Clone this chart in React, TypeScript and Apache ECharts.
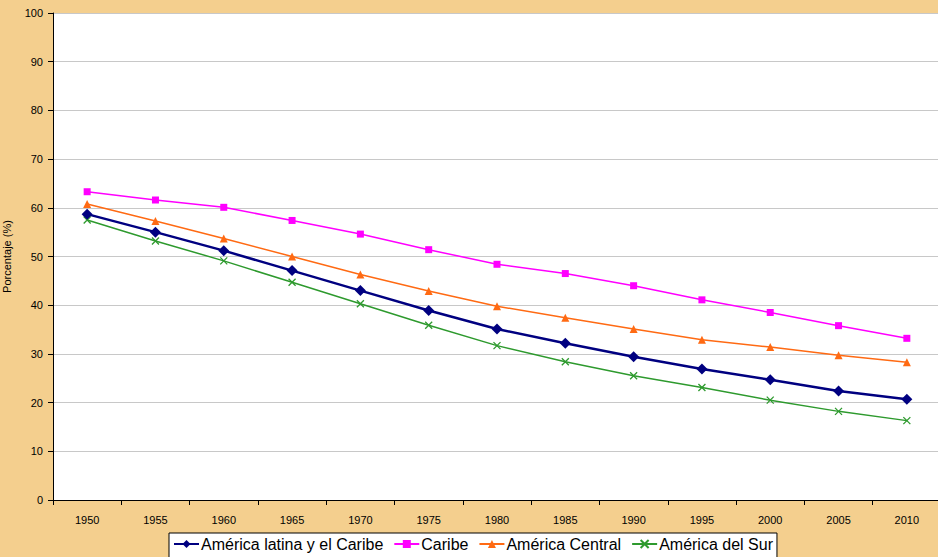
import React, { useEffect, useRef } from "react";
import * as echarts from "echarts";

const years = ["1950", "1955", "1960", "1965", "1970", "1975", "1980", "1985", "1990", "1995", "2000", "2005", "2010"];
const latam = [58.7, 55.0, 51.2, 47.1, 43.0, 38.9, 35.1, 32.2, 29.4, 26.9, 24.7, 22.4, 20.7];
const caribe = [63.3, 61.6, 60.1, 57.4, 54.6, 51.4, 48.4, 46.5, 44.0, 41.1, 38.5, 35.8, 33.2];
const central = [60.8, 57.3, 53.7, 50.0, 46.3, 42.9, 39.8, 37.4, 35.1, 32.9, 31.4, 29.7, 28.3];
const sur = [57.5, 53.2, 49.1, 44.7, 40.3, 35.9, 31.7, 28.4, 25.5, 23.1, 20.5, 18.2, 16.3];
const seriesNames = ["América latina y el Caribe", "Caribe", "América Central", "América del Sur"];

const FONT = "Liberation Sans, Arial, sans-serif";

export default function App() {
  const ref = useRef<HTMLDivElement>(null);
  useEffect(() => {
    document.body.style.margin = "0";
    const chart = echarts.init(ref.current!, undefined, { renderer: "svg" });
    chart.setOption({
      animation: false,
      backgroundColor: "#F4CF8E",
      textStyle: { fontFamily: FONT },
      grid: {
        left: 53,
        top: 13,
        width: 888,
        height: 487,
        backgroundColor: "#ffffff",
        show: true,
        borderWidth: 0,
        containLabel: false,
        outerBoundsMode: "none",
      },
      legend: {
        data: seriesNames,
        left: 169,
        top: 533,
        itemGap: 10,
        itemWidth: 25,
        itemHeight: 10,
        padding: [3, 4, 6, 4],
        backgroundColor: "#ffffff",
        borderColor: "#000000",
        borderWidth: 1,
        borderRadius: 0,
        textStyle: { fontSize: 16, color: "#000", fontFamily: FONT, padding: [0, 0, 0, -3] },
      },
      xAxis: {
        type: "category",
        data: years,
        boundaryGap: true,
        axisLine: { lineStyle: { color: "#000", width: 1 } },
        axisTick: { show: true, length: 5, lineStyle: { color: "#000" } },
        axisLabel: { color: "#000", fontSize: 11, margin: 14, fontFamily: FONT },
        splitLine: { show: false },
      },
      yAxis: {
        type: "value",
        min: 0,
        max: 100,
        interval: 10,
        name: "Porcentaje (%)",
        nameLocation: "middle",
        nameGap: 41,
        nameTextStyle: { fontSize: 11, color: "#000", fontFamily: FONT },
        axisLine: { show: true, lineStyle: { color: "#000", width: 1 } },
        axisTick: { show: true, length: 5, lineStyle: { color: "#000" } },
        axisLabel: { color: "#000", fontSize: 11, margin: 10, fontFamily: FONT },
        splitLine: { show: true, lineStyle: { color: "#c8c8c8", width: 1 } },
      },
      series: [
        {
          name: seriesNames[0],
          type: "line",
          data: latam,
          symbol: "diamond",
          symbolSize: 11,
          lineStyle: { color: "#000080", width: 2.5 },
          itemStyle: { color: "#000080" },
          z: 5,
        },
        {
          name: seriesNames[1],
          type: "line",
          data: caribe,
          symbol: "rect",
          symbolSize: 7,
          lineStyle: { color: "#FF00FF", width: 1.5 },
          itemStyle: { color: "#FF00FF" },
        },
        {
          name: seriesNames[2],
          type: "line",
          data: central,
          symbol: "triangle",
          symbolSize: 8,
          lineStyle: { color: "#FF6A13", width: 1.5 },
          itemStyle: { color: "#FF6A13" },
        },
        {
          name: seriesNames[3],
          type: "line",
          data: sur,
          symbol: "path://M0,0L10,10M10,0L0,10",
          symbolSize: 7,
          lineStyle: { color: "#2E9A2E", width: 1.5 },
          itemStyle: { color: "none", borderColor: "#2E9A2E", borderWidth: 1.3 },
        },
      ],
    });
    return () => chart.dispose();
  }, []);
  return <div ref={ref} style={{ position: "absolute", left: 0, top: 0, width: 938, height: 557 }} />;
}
